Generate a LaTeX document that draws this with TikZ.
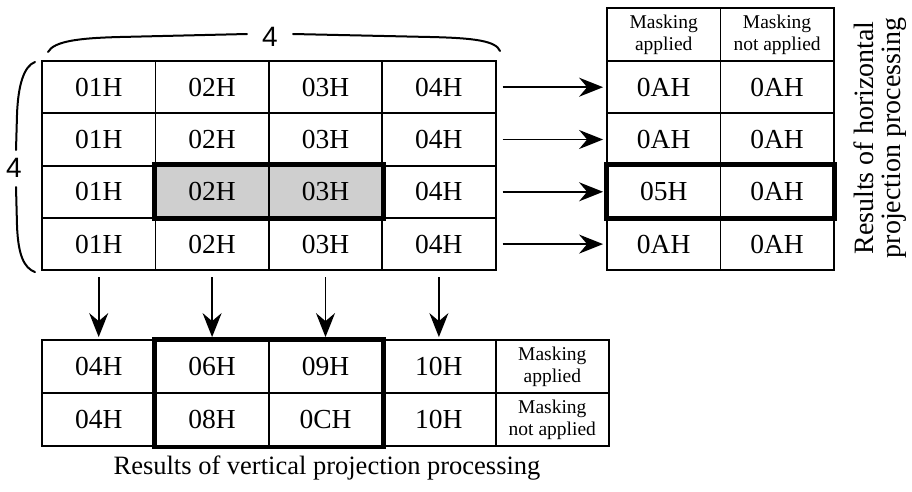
\documentclass[tikz,border=0pt]{standalone}
\usepackage{fontspec}
\setmainfont{Liberation Serif}
\newfontfamily\bracefont{Liberation Sans}
\usetikzlibrary{arrows.meta, positioning}

\begin{document}
\begin{tikzpicture}[
    x=1pt, y=-1pt,
    cell/.style={rectangle, draw, line width=1.8pt, minimum width=113.4pt, minimum height=52.3pt,
                 inner sep=0pt, align=center, font=\fontsize{27.5}{30}\selectfont},
    headcell/.style={cell, minimum height=53pt, font=\fontsize{19.5}{22}\selectfont},
    bold/.style={draw, line width=4.8pt},
    arrow/.style={-{Stealth[length=24pt, width=19pt, inset=8pt]}, line width=1.8pt},
    brace/.style={line width=2pt, line cap=round},
    count/.style={font=\bracefont\fontsize{28}{28}\selectfont},
    caption/.style={font=\fontsize{26.5}{28}\selectfont, align=center}
]
    \useasboundingbox (0,0) rectangle (912,491);

    % Input block
    \foreach \r/\y in {1/87.2, 2/139.5, 4/244.1}
      \foreach \c/\v in {1/01H, 2/02H, 3/03H, 4/04H}
        \node[cell] (m-\r-\c) at (42+113.4*\c-56.7, \y) {\v};
    \foreach \c/\v/\s in {1/01H/white, 2/02H/gray!38, 3/03H/gray!38, 4/04H/white}
      \node[cell, fill=\s] (m-3-\c) at (42+113.4*\c-56.7, 191.8) {\v};

    % Horizontal projection results
    \node[headcell] (hh-1) at (663.7, 34.5) {Masking\\applied};
    \node[headcell] (hh-2) at (777.1, 34.5) {Masking\\not applied};
    \foreach \r/\y/\a in {1/87.2/0AH, 2/139.5/0AH, 3/191.8/05H, 4/244.1/0AH} {
      \node[cell] (h-\r-1) at (663.7, \y) {\a};
      \node[cell] (h-\r-2) at (777.1, \y) {0AH};
    }

    % Vertical projection results
    \foreach \c/\p/\q in {1/04H/04H, 2/06H/08H, 3/09H/0CH, 4/10H/10H} {
      \node[cell, minimum height=53pt] (v-1-\c) at (42+113.4*\c-56.7, 366.5) {\p};
      \node[cell, minimum height=53pt] (v-2-\c) at (42+113.4*\c-56.7, 419.5) {\q};
    }
    \node[headcell] (v-1-5) at (552.3, 366.5) {Masking\\applied};
    \node[headcell] (v-2-5) at (552.3, 419.5) {Masking\\not applied};

    % Highlighted regions
    \draw[bold] (m-3-2.north west) rectangle (m-3-3.south east);
    \draw[bold] (h-3-1.north west) rectangle (h-3-2.south east);
    \draw[bold] (v-1-2.north west) rectangle (v-2-3.south east);

    % Arrows
    \foreach \r in {1,...,4}
      \draw[arrow] ([xshift=6pt]m-\r-4.east) -- ([xshift=-3pt]h-\r-1.west);
    \foreach \c in {1,...,4}
      \draw[arrow] ([yshift=-6pt]m-4-\c.south) -- ([yshift=2pt]v-1-\c.north);

    % Size braces
    \draw[brace] (48,52) .. controls (54,41) and (80,38) .. (120,37) -- (247,34);
    \draw[brace] (293,34) -- (430,37) .. controls (475,38) and (496,41) .. (500,51);
    \node[count] (top4) at (270,37) {4};
    \draw[brace] (35,62) .. controls (24,66) and (18,85) .. (17,115) -- (16,150);
    \draw[brace] (16,187) -- (17,225) .. controls (18,255) and (24,268) .. (35,272);
    \node[count] (left4) at (14,168) {4};

    % Captions
    \node[caption] (vcap) at (327,468) {Results of vertical projection processing};
    \node[caption, rotate=90, font=\fontsize{28}{27}\selectfont] (hcap) at (880,138) {Results of horizontal\\projection processing};
\end{tikzpicture}
\end{document}
